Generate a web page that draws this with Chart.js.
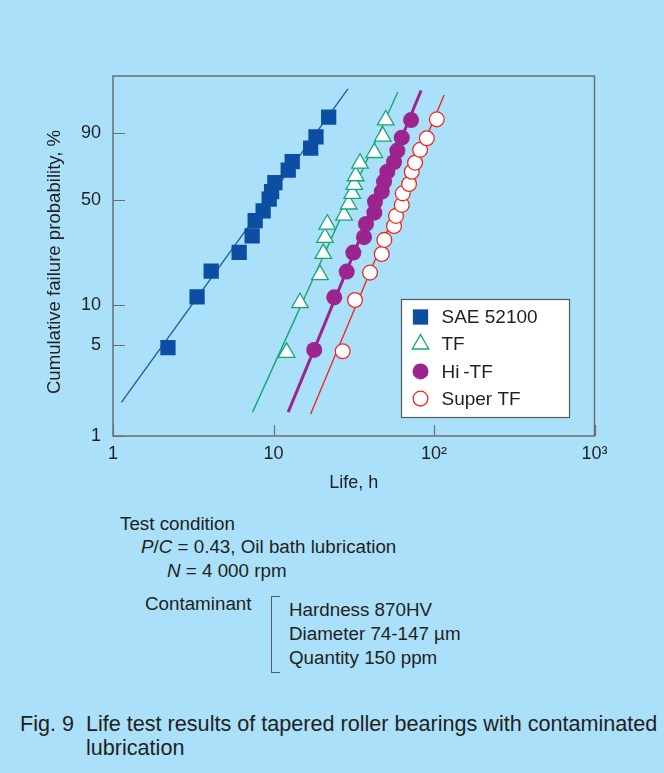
<!DOCTYPE html>
<html>
<head>
<meta charset="utf-8">
<title>Life test results of tapered roller bearings</title>
<script src="https://cdn.jsdelivr.net/npm/chart.js"></script>
<style>
  html, body { margin: 0; padding: 0; }
  body {
    width: 664px; height: 773px; overflow: hidden; position: relative;
    background: #aae0fa;
    font-family: "Liberation Sans", Arial, Helvetica, sans-serif;
    color: #231f20;
  }
  #plot { position: absolute; left: 0; top: 0; width: 664px; height: 500px; }
  .t { position: absolute; font-size: 18.8px; line-height: 22px; white-space: nowrap; }
  .cap { position: absolute; font-size: 21.6px; line-height: 24px; white-space: nowrap; }
  .bracket {
    position: absolute; left: 271px; top: 596px; width: 8px; height: 75px;
    border-left: 1px solid #58595b; border-top: 1px solid #58595b; border-bottom: 1px solid #58595b;
  }
</style>
</head>
<body>
<div id="plot"><canvas id="chart" width="664" height="500"></canvas></div>

<div class="t" style="left:120px; top:513px;">Test condition</div>
<div class="t" style="left:141px; top:536px;"><i>P</i>/<i>C</i> = 0.43, Oil bath lubrication</div>
<div class="t" style="left:167px; top:560px;"><i>N</i> = 4 000 rpm</div>
<div class="t" style="left:145px; top:593px;">Contaminant</div>
<div class="bracket"></div>
<div class="t" style="left:289px; top:599px;">Hardness 870HV</div>
<div class="t" style="left:289px; top:623px;">Diameter 74-147 µm</div>
<div class="t" style="left:289px; top:647px;">Quantity 150 ppm</div>

<div class="cap" style="left:20px; top:712px;">Fig. 9</div>
<div class="cap" style="left:86px; top:712px;">Life test results of tapered roller bearings with contaminated</div>
<div class="cap" style="left:86px; top:736px;">lubrication</div>

<script>
// Life (h) and cumulative failure probability (%) of each bearing material
const lifeSAE   = [2.20, 3.34, 4.09, 6.11, 7.36, 7.69, 8.62, 9.40, 9.73, 10.2, 12.35, 13.08, 17.04, 18.4, 22.07];
const probSAE   = [4.8, 11.5, 17.6, 23.8, 30.6, 38.1, 43.5, 50.7, 55.4, 61.3, 69.6, 74.9, 82.8, 88.5, 95.4];

const lifeTF    = [12.07, 14.61, 19.48, 20.42, 20.93, 21.63, 27.5, 29.42, 30.97, 31.87, 32.52, 34.59, 42.48, 47.93, 50.04];
const probTF    = [4.4, 10.4, 16.6, 23.3, 29.8, 36.2, 41.0, 47.5, 54.1, 60.0, 65.7, 73.9, 80.3, 88.7, 94.6];

const lifeHiTF  = [17.94, 23.91, 28.58, 31.43, 36.64, 37.70, 42.48, 42.9, 47.25, 48.83, 51.2, 56.37, 59.11, 62.98, 71.97];
const probHiTF  = [4.6, 11.4, 17.5, 23.7, 30.0, 36.4, 42.5, 49.0, 55.4, 62.0, 68.5, 74.7, 81.5, 88.1, 94.6];

const lifeSuper = [26.98, 32.2, 39.95, 47.25, 49.05, 56.37, 58.0, 62.98, 63.9, 69.94, 72.7, 76.2, 81.9, 90.2, 104.1];
const probSuper = [4.5, 10.9, 17.2, 23.2, 28.8, 35.3, 40.7, 47.1, 54.3, 60.4, 68.5, 74.3, 81.9, 87.8, 94.8];

// Fitted Weibull lines, given by their two end points
const fitLifeSAE   = [1.128, 29.1];
const fitProbSAE   = [1.82, 99.4];
const fitLifeTF    = [7.41, 59.5];
const fitProbTF    = [1.53, 99.2];
const fitLifeHiTF  = [12.35, 83.1];
const fitProbHiTF  = [1.53, 99.3];
const fitLifeSuper = [17.04, 115.6];
const fitProbSuper = [1.48, 98.98];

// Axis ticks
const xTickLife   = [1, 10, 100, 1000];
const xTickLabels = ['1', '10', '10²', '10³'];
const yTickProb   = [1, 5, 10, 50, 90];
const yTopProb    = 99.84;

const seriesNames = ['SAE 52100', 'TF', 'Hi\u2009-TF', 'Super TF'];

// Weibull probability paper: y = ln(-ln(1 - F))
const weib = p => Math.log(-Math.log(1 - p / 100));
const toPoints = (life, prob) => life.map((t, i) => ({ x: t, y: weib(prob[i]) }));

const FONT = '"Liberation Sans", Arial, Helvetica, sans-serif';
const TEXT = '#231f20';
const AXIS = '#6d6e71';

const BLUE = '#0c4fa2', BLUE_LINE = '#1f5cab';
const GREEN = '#17a673';
const PURPLE = '#9c248f';
const RED = '#ec2a24';

const markerSets = [
  { label: seriesNames[0], data: toPoints(lifeSAE, probSAE), pointStyle: 'rect', pointRadius: 10.8,
    backgroundColor: BLUE, borderColor: BLUE, borderWidth: 0 },
  { label: seriesNames[1], data: toPoints(lifeTF, probTF), pointStyle: 'triangle', pointRadius: 9.6,
    backgroundColor: '#ffffff', borderColor: GREEN, borderWidth: 1.3 },
  { label: seriesNames[2], data: toPoints(lifeHiTF, probHiTF), pointStyle: 'circle', pointRadius: 8,
    backgroundColor: PURPLE, borderColor: PURPLE, borderWidth: 0 },
  { label: seriesNames[3], data: toPoints(lifeSuper, probSuper), pointStyle: 'circle', pointRadius: 7.4,
    backgroundColor: '#ffffff', borderColor: RED, borderWidth: 1.3 }
].map(d => Object.assign(d, { showLine: false, order: 0, pointHoverRadius: d.pointRadius }));

const fitSets = [
  { data: toPoints(fitLifeSAE, fitProbSAE), borderColor: BLUE_LINE, borderWidth: 1.4 },
  { data: toPoints(fitLifeTF, fitProbTF), borderColor: GREEN, borderWidth: 1.4 },
  { data: toPoints(fitLifeHiTF, fitProbHiTF), borderColor: PURPLE, borderWidth: 3 },
  { data: toPoints(fitLifeSuper, fitProbSuper), borderColor: RED, borderWidth: 1.4 }
].map(d => Object.assign(d, { showLine: true, pointRadius: 0, order: 1, fill: false }));

// Frame, inward tick marks, rotated y title and boxed legend
const paperDecor = {
  id: 'paperDecor',
  afterDatasetsDraw(chart, args, opts) {
    const { ctx, chartArea: a, scales: { x, y } } = chart;
    ctx.save();
    ctx.strokeStyle = AXIS;
    ctx.lineWidth = 1.5;
    ctx.strokeRect(a.left, a.top, a.right - a.left, a.bottom - a.top);
    ctx.lineWidth = 1.2;
    ctx.beginPath();
    yTickProb.forEach(p => {
      const py = Math.round(y.getPixelForValue(weib(p))) + 0.5;
      ctx.moveTo(a.left, py); ctx.lineTo(a.left + opts.tickLen, py);
    });
    xTickLife.forEach(v => {
      const px = Math.round(x.getPixelForValue(v)) + 0.5;
      ctx.moveTo(px, a.bottom); ctx.lineTo(px, a.bottom - opts.tickLen + 1);
    });
    ctx.stroke();

    // y axis title
    ctx.fillStyle = TEXT;
    ctx.font = '18.6px ' + FONT;
    ctx.textAlign = 'center';
    ctx.textBaseline = 'middle';
    ctx.translate(opts.yTitleX, (a.top + a.bottom) / 2 + opts.yTitleShift);
    ctx.rotate(-Math.PI / 2);
    ctx.fillText('Cumulative failure probability, %', 0, 0);
    ctx.restore();

    // legend
    const L = opts.legend;
    ctx.save();
    ctx.fillStyle = '#ffffff';
    ctx.fillRect(L.left, L.top, L.width, L.height);
    ctx.strokeStyle = '#58595b';
    ctx.lineWidth = 1.2;
    ctx.strokeRect(L.left, L.top, L.width, L.height);
    markerSets.forEach((ds, i) => {
      const cy = L.top + L.firstRow + i * L.rowGap;
      ctx.fillStyle = ds.backgroundColor;
      ctx.strokeStyle = ds.borderColor;
      ctx.lineWidth = ds.borderWidth;
      Chart.helpers.drawPoint(ctx, {
        pointStyle: ds.pointStyle, radius: ds.pointRadius, rotation: 0, borderWidth: ds.borderWidth
      }, L.left + L.markerX, cy);
      ctx.fillStyle = TEXT;
      ctx.font = '19px ' + FONT;
      ctx.textAlign = 'left';
      ctx.textBaseline = 'middle';
      ctx.fillText(ds.label, L.left + L.textX, cy + 1);
    });
    ctx.restore();
  }
};

new Chart(document.getElementById('chart'), {
  type: 'scatter',
  data: { datasets: [...markerSets, ...fitSets] },
  options: {
    responsive: false,
    animation: false,
    devicePixelRatio: 1,
    layout: { padding: { top: 76, right: 69.5, left: 0, bottom: 0 } },
    plugins: {
      legend: { display: false },
      tooltip: { enabled: false },
      paperDecor: {
        tickLen: 12,
        yTitleX: 55,
        yTitleShift: 6,
        legend: { left: 401.5, top: 299.5, width: 168, height: 118,
                  markerX: 19, textX: 40, firstRow: 17.5, rowGap: 27.2 }
      }
    },
    scales: {
      x: {
        type: 'logarithmic', position: 'bottom', min: 1, max: 1000,
        afterBuildTicks: s => { s.ticks = xTickLife.map(v => ({ value: v })); },
        afterFit: s => { s.height = 64; },
        ticks: { autoSkip: false, maxRotation: 0, padding: -1, color: TEXT,
                 font: { size: 18, family: FONT }, callback: (v, i) => xTickLabels[i] },
        grid: { display: false },
        border: { display: false },
        title: { display: true, text: 'Life, h', color: TEXT,
                 font: { size: 18, family: FONT }, padding: { top: 0, bottom: 6 } }
      },
      y: {
        type: 'linear', position: 'left', min: weib(yTickProb[0]), max: weib(yTopProb),
        afterBuildTicks: s => { s.ticks = yTickProb.map(p => ({ value: weib(p) })); },
        afterFit: s => { s.width = 113; },
        ticks: { autoSkip: false, padding: 4, color: TEXT,
                 font: { size: 18, family: FONT }, callback: (v, i) => String(yTickProb[i]) },
        grid: { display: false },
        border: { display: false }
      }
    }
  },
  plugins: [paperDecor]
});
</script>
</body>
</html>
